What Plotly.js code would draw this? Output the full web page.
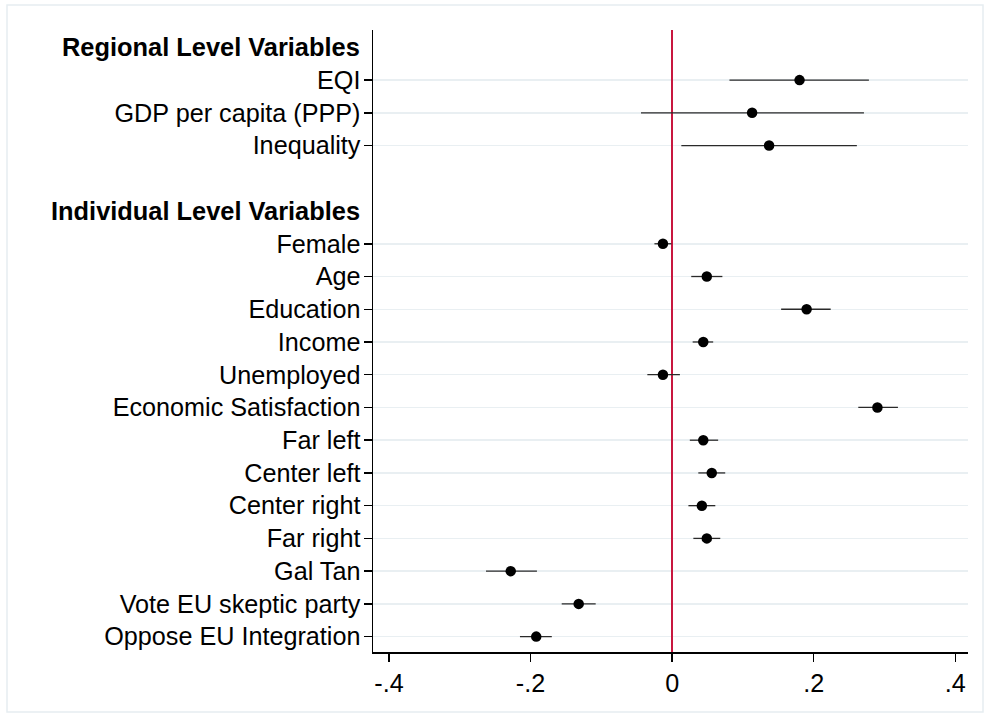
<!DOCTYPE html>
<html>
<head>
<meta charset="utf-8">
<script src="https://cdn.plot.ly/plotly-3.0.1.min.js"></script>
<style>html,body{margin:0;padding:0;background:#fff;}#chart{width:984px;height:717px;}</style>
</head>
<body>
<div id="chart"></div>
<script>
// Group headers
const groupHeaders = ["Regional Level Variables", "Individual Level Variables"];

// Regional level variables
const regionalLabels = ["EQI", "GDP per capita (PPP)", "Inequality"];
const regionalCoef   = [0.180, 0.113, 0.137];
const regionalLo     = [0.081, -0.044, 0.013];
const regionalHi     = [0.278, 0.271, 0.261];

// Individual level variables
const individualLabels = ["Female", "Age", "Education", "Income", "Unemployed",
  "Economic Satisfaction", "Far left", "Center left", "Center right", "Far right",
  "Gal Tan", "Vote EU skeptic party", "Oppose EU Integration"];
const individualCoef = [-0.013, 0.049, 0.190, 0.044, -0.013, 0.290, 0.044, 0.056, 0.042, 0.049, -0.228, -0.132, -0.192];
const individualLo   = [-0.025, 0.027, 0.154, 0.029, -0.035, 0.263, 0.025, 0.037, 0.023, 0.030, -0.263, -0.156, -0.215];
const individualHi   = [-0.001, 0.071, 0.224, 0.058, 0.011, 0.319, 0.065, 0.075, 0.061, 0.068, -0.191, -0.108, -0.170];

// x tick labels
const xTickVals = [-0.4, -0.2, 0, 0.2, 0.4];
const xTickText = ["-.4", "-.2", "0", ".2", ".4"];

// Build row positions: header, vars, blank gap, header, vars
const groups = [
  {labels: regionalLabels, coef: regionalCoef, lo: regionalLo, hi: regionalHi},
  {labels: individualLabels, coef: individualCoef, lo: individualLo, hi: individualHi}
];
let pos = 0;
const ys = [], xs = [], eplus = [], eminus = [], tickVals = [], tickText = [], headerPos = [];
groups.forEach((g, gi) => {
  if (gi > 0) pos += 1; // blank row
  headerPos.push(pos); pos += 1;
  g.labels.forEach((lab, i) => {
    ys.push(pos); xs.push(g.coef[i]);
    eplus.push(g.hi[i] - g.coef[i]); eminus.push(g.coef[i] - g.lo[i]);
    tickVals.push(pos); tickText.push(lab);
    pos += 1;
  });
});
const lastPos = pos - 1;

const FONT = "Liberation Sans, Arial, sans-serif";
const FS = 25.2;

const trace = {
  type: "scatter", mode: "markers",
  x: xs, y: ys,
  marker: {color: "#000", size: 10.5},
  error_x: {type: "data", symmetric: false, array: eplus, arrayminus: eminus,
            color: "#2a2a2a", thickness: 1.3, width: 0},
  hoverinfo: "x+y", showlegend: false
};

const annotations = groupHeaders.map((h, i) => ({
  text: "<b>" + h + "</b>", xref: "paper", yref: "y", x: 0, y: headerPos[i],
  xanchor: "right", yanchor: "middle", xshift: -11, showarrow: false,
  font: {family: FONT, size: 25.4, color: "#000"}
}));

const layout = {
  width: 984, height: 717,
  margin: {l: 373, r: 16, t: 30, b: 65},
  paper_bgcolor: "#fff", plot_bgcolor: "#fff",
  font: {family: FONT, size: FS, color: "#000"},
  xaxis: {
    range: [-0.4226, 0.418], tickvals: xTickVals, ticktext: xTickText,
    ticks: "outside", ticklen: 8, tickwidth: 1.5, tickcolor: "#000",
    showline: true, linecolor: "#000", linewidth: 1.5,
    showgrid: false, zeroline: true, zerolinecolor: "#c8173f", zerolinewidth: 2,
    tickfont: {family: FONT, size: FS, color: "#000"}, fixedrange: true
  },
  yaxis: {
    range: [lastPos + 0.47, -0.53], tickvals: tickVals, ticktext: tickText,
    ticks: "outside", ticklen: 8, tickwidth: 1.5, tickcolor: "#000",
    ticklabelstandoff: -2,
    showline: true, linecolor: "#000", linewidth: 1.5,
    showgrid: true, gridcolor: "#e9eff2", gridwidth: 1.5, zeroline: false,
    tickfont: {family: FONT, size: FS, color: "#000"}, fixedrange: true
  },
  annotations: annotations,
  shapes: [{
    type: "rect", xref: "paper", yref: "paper",
    x0: (7 - 373) / 595, x1: (983 - 373) / 595,
    y0: -(712 - 652) / 622, y1: 1 + (30 - 5) / 622,
    line: {color: "#e6edf1", width: 1.5}, fillcolor: "rgba(0,0,0,0)", layer: "below"
  }]
};

Plotly.newPlot("chart", [trace], layout, {displayModeBar: false, staticPlot: true});
</script>
</body>
</html>
